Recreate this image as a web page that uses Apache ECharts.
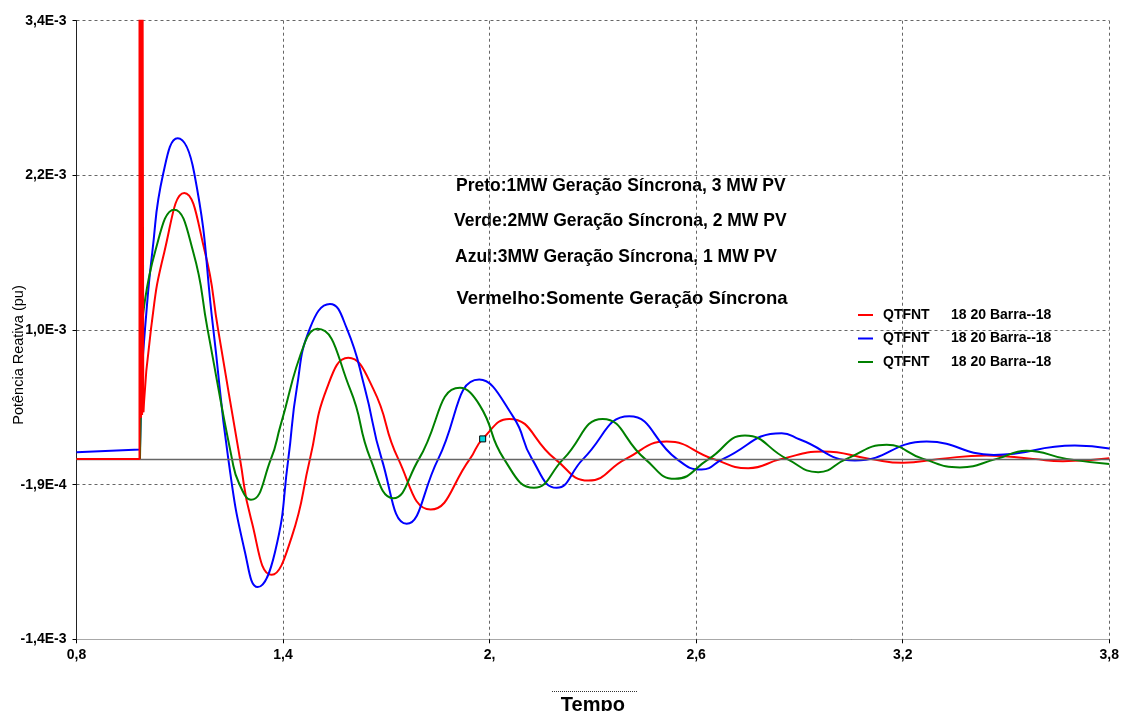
<!DOCTYPE html>
<html><head><meta charset="utf-8">
<script src="https://cdn.jsdelivr.net/npm/echarts@6/dist/echarts.min.js"></script>
<style>html,body{margin:0;padding:0;background:#fff}#c{width:1123px;height:711px}</style>
</head><body><div id="c"></div>
<script>
// Axis ticks (values in units of 1E-3 pu on y, seconds on x)
const xTickValues = [0.8, 1.4, 2.0, 2.6, 3.2, 3.8];
const xTickLabels = ['0,8', '1,4', '2,', '2,6', '3,2', '3,8'];
const yTickValues = [-1.4, -0.2, 1.0, 2.2, 3.4];
const yTickLabels = ['-1,4E-3', '-1,9E-4', '1,0E-3', '2,2E-3', '3,4E-3'];

const legendCode = 'QTFNT';
const legendBus = '18 20 Barra--18';
const seriesNames = ['Vermelho', 'Azul', 'Verde'];

const notes = [
  'Preto:1MW Geração Síncrona, 3 MW PV',
  'Verde:2MW Geração Síncrona, 2 MW PV',
  'Azul:3MW Geração Síncrona, 1 MW PV',
  'Vermelho:Somente Geração Síncrona'
];

// Red: pre-fault + switching spike (mpu)
const redStep = [[0.8,0],[0.983,0],[0.983,3.6],[0.9845,0.33],[0.986,3.6],[0.9875,0.32],[0.989,3.6],[0.9905,0.34],[0.992,3.6],[0.994,0.362]];
const redWave = [[0.994,0.362],[1.0164,1.009],[1.055,1.604],[1.1131,2.064],[1.1732,1.604],[1.211,1.009],[1.2749,0],[1.3068,-0.465],[1.3669,-0.900],[1.425,-0.607],[1.4782,0],[1.5267,0.543],[1.5894,0.784],[1.662,0.543],[1.7346,0],[1.8288,-0.393],[1.9429,0],[1.9798,0.155],[2.057,0.310],[2.1898,0],[2.2865,-0.168],[2.396,0],[2.5142,0.134],[2.6495,0],[2.7512,-0.072],[2.8482,0],[2.969,0.057],[3.1046,0],[3.2014,-0.031],[3.308,0],[3.4436,0.026],[3.578,0],[3.6652,-0.018],[3.8,0.005]];

// Blue
const blueStep = [[0.8,0.052],[0.9844,0.072],[0.9894,0.646]];
const blueWave = [[0.9894,0.646],[0.999,1.009],[1.0202,1.604],[1.0521,2.216],[1.0939,2.488],[1.1421,2.216],[1.1973,1.009],[1.2409,0],[1.2894,-0.724],[1.3263,-0.995],[1.3765,-0.724],[1.4152,0],[1.4396,0.543],[1.4782,1.014],[1.5363,1.202],[1.5848,1.014],[1.638,0.543],[1.6864,0],[1.759,-0.504],[1.8508,0],[1.9699,0.615],[2.0687,0.326],[2.123,0],[2.1947,-0.225],[2.272,0],[2.4056,0.331],[2.5432,0],[2.6158,-0.083],[2.6786,0],[2.8482,0.199],[2.9014,0.150],[3.0611,-0.013],[3.2693,0.134],[3.4648,0.031],[3.6999,0.103],[3.8,0.081]];

// Green
const greenStep = [[0.8,0],[0.9844,0],[0.9911,1.061]];
const greenWave = [[0.9911,1.061],[1.028,1.604],[1.084,1.934],[1.1392,1.604],[1.1805,1.009],[1.2516,0],[1.272,-0.189],[1.3068,-0.318],[1.3649,0],[1.3925,0.258],[1.4637,0.905],[1.4994,1.009],[1.5944,0.543],[1.6539,0],[1.7201,-0.305],[1.7948,0],[1.9138,0.551],[1.9719,0.413],[2.0416,0],[2.1288,-0.225],[2.2145,0],[2.3283,0.310],[2.4512,0],[2.5383,-0.155],[2.637,0],[2.7416,0.181],[2.8636,0],[2.9545,-0.103],[3.037,0],[3.1532,0.109],[3.2595,0],[3.3661,-0.066],[3.4726,0],[3.5598,0.064],[3.676,0],[3.8,-0.039]];

const cursorPoint = [1.9798, 0.155];

const FONT = '"Liberation Sans", Arial, sans-serif';
function lookup(values, labels) {
  return function (v) {
    for (let i = 0; i < values.length; i++) if (Math.abs(values[i] - v) < 1e-6) return labels[i];
    return '';
  };
}
function lineSeries(name, data, color, smooth, z) {
  return { name: name, type: 'line', data: data, symbol: 'none', showSymbol: false,
    smooth: smooth, clip: true, silent: true, z: z,
    lineStyle: { color: color, width: 2 }, itemStyle: { color: color } };
}

const chart = echarts.init(document.getElementById('c'), null, { renderer: 'canvas' });
const redW = lineSeries(seriesNames[0], redWave, '#ff0000', 0.5, 3);
redW.markPoint = { symbol: 'rect', symbolSize: 6, silent: true, label: { show: false },
  itemStyle: { color: '#00d8e0', borderColor: '#000', borderWidth: 1 },
  data: [{ coord: cursorPoint }] };

chart.setOption({
  animation: false,
  backgroundColor: '#ffffff',
  grid: { left: 76.5, right: 13.7, top: 20.7, bottom: 71.7, containLabel: false, outerBoundsMode: 'none' },
  xAxis: {
    type: 'value', min: 0.8, max: 3.8,
    axisLine: { show: true, onZero: false, lineStyle: { color: '#a8a8a8', width: 1 } },
    axisTick: { show: true, customValues: xTickValues, length: 4, lineStyle: { color: '#000' } },
    axisLabel: { customValues: xTickValues, formatter: lookup(xTickValues, xTickLabels), color: '#000',
      fontWeight: 'bold', fontSize: 14, fontFamily: FONT, margin: 9 },
    splitLine: { show: true, lineStyle: { color: '#666', type: [3, 3], width: 1 } },
    name: 'Tempo', nameLocation: 'middle', nameGap: 56,
    nameTextStyle: { fontWeight: 'bold', fontSize: 20, fontFamily: FONT, color: '#000' }
  },
  yAxis: {
    type: 'value', min: -1.4, max: 3.4,
    axisLine: { show: true, onZero: false, lineStyle: { color: '#222', width: 1 } },
    axisTick: { show: true, customValues: yTickValues, length: 4, lineStyle: { color: '#000' } },
    axisLabel: { customValues: yTickValues, formatter: lookup(yTickValues, yTickLabels), color: '#000',
      fontWeight: 'bold', fontSize: 14, fontFamily: FONT, margin: 10 },
    splitLine: { show: true, lineStyle: { color: '#666', type: [3, 3], width: 1 } }
  },
  legend: {
    orient: 'vertical', left: 858, top: 308, padding: 0, itemWidth: 15, itemHeight: 2, itemGap: 9.5,
    icon: 'rect', selectedMode: false, data: seriesNames,
    formatter: function () { return '{p| }{a|' + legendCode + '}{b|' + legendBus + '}'; },
    textStyle: { color: '#000', fontFamily: FONT, fontWeight: 'bold', fontSize: 14,
      rich: {
        p: { width: 5, fontSize: 14 },
        a: { width: 68, fontWeight: 'bold', fontSize: 14, fontFamily: FONT, color: '#000' },
        b: { fontWeight: 'bold', fontSize: 14, fontFamily: FONT, color: '#000' }
      } }
  },
  graphic: [
    { type: 'text', x: 456, y: 186, silent: true, style: { text: notes[0], font: 'bold 17.5px ' + FONT, fill: '#000', align: 'left', verticalAlign: 'middle' } },
    { type: 'text', x: 454, y: 221.5, silent: true, style: { text: notes[1], font: 'bold 17.5px ' + FONT, fill: '#000', align: 'left', verticalAlign: 'middle' } },
    { type: 'text', x: 455, y: 257.5, silent: true, style: { text: notes[2], font: 'bold 17.5px ' + FONT, fill: '#000', align: 'left', verticalAlign: 'middle' } },
    { type: 'text', x: 456.5, y: 298.5, silent: true, style: { text: notes[3], font: 'bold 18.5px ' + FONT, fill: '#000', align: 'left', verticalAlign: 'middle' } },
    { type: 'text', x: 18.5, y: 355, rotation: Math.PI / 2, silent: true, style: { text: 'Potência Reativa (pu)', font: '14.5px ' + FONT, fill: '#000', align: 'center', verticalAlign: 'middle' } },
    { type: 'line', silent: true, shape: { x1: 552, y1: 691.5, x2: 637, y2: 691.5 }, style: { stroke: '#333', lineWidth: 1, lineDash: [1, 1] } }
  ],
  series: [
    { name: 'zero', type: 'line', data: [], z: 1, silent: true,
      markLine: { silent: true, symbol: ['none', 'none'], label: { show: false }, animation: false,
        lineStyle: { color: '#666', type: 'solid', width: 1.3 }, data: [{ yAxis: 0 }] } },
    redW,
    lineSeries(seriesNames[1], blueWave, '#0000ff', 0.5, 3),
    lineSeries(seriesNames[2], greenWave, '#008000', 0.5, 3),
    lineSeries(seriesNames[1], blueStep, '#0000ff', false, 4),
    lineSeries(seriesNames[2], greenStep, '#008000', false, 4),
    lineSeries(seriesNames[0], redStep, '#ff0000', false, 5)
  ]
});
</script>
</body></html>
